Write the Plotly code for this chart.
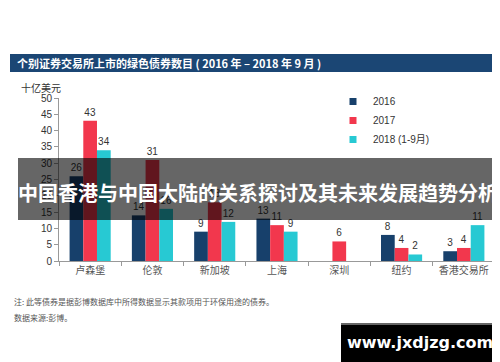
import plotly.graph_objects as go

categories = ["卢森堡", "伦敦", "新加坡", "上海", "深圳", "纽约", "香港交易所"]
series_names = ["2016", "2017", "2018 (1-9月)"]
v2016 = [26, 14, 9, 13, 0, 8, 3]
v2017 = [43, 31, 18, 11, 6, 4, 4]
v2018 = [34, 16, 12, 9, 0, 2, 11]
colors = ["#17406b", "#f2374d", "#27c9d3"]
yticks = [0, 5, 10, 15, 20, 25, 30, 35, 40, 45, 50]

W, H = 500, 362
L, R, T, B = 51, 13, 90, 109
pw, ph = W - L - R, H - T - B

def px(x):
    return (x - L) / pw

def py(y):
    return 1 - (y - T) / ph

FONT = "Liberation Sans, Noto Sans CJK SC, sans-serif"
CJK = "Noto Sans CJK SC, sans-serif"

fig = go.Figure()
for name, vals, c in zip(series_names, [v2016, v2017, v2018], colors):
    fig.add_trace(go.Bar(
        x=categories, y=vals, name=name, marker_color=c, marker_line_width=0,
        text=[str(v) if v else "" for v in vals], textposition="outside",
        textfont=dict(size=10, color="#333", family=FONT), cliponaxis=False,
        showlegend=False,
    ))
    fig.add_trace(go.Scatter(
        x=[None], y=[None], mode="markers", name=name,
        marker=dict(symbol="square", size=7, color=c),
    ))

fig.update_layout(
    width=W, height=H, margin=dict(l=L, r=R, t=T, b=B),
    paper_bgcolor="white", plot_bgcolor="white",
    barmode="group", bargap=0.34, bargroupgap=0,
    font=dict(family=FONT, size=10, color="#333"),
    legend=dict(x=px(325), y=py(79), xanchor="left", yanchor="top",
                font=dict(size=10, color="#333", family=FONT),
                itemwidth=30, tracegroupgap=0, bgcolor="rgba(0,0,0,0)"),
    xaxis=dict(showline=True, linecolor="#999", linewidth=1, ticks="outside",
               tickson="boundaries", ticklen=4, tickcolor="#999",
               tickfont=dict(size=10, color="#555", family=CJK), showgrid=False),
    yaxis=dict(range=[0, 50], tickvals=yticks, showline=True, linecolor="#999",
               linewidth=1, ticks="outside", ticklen=4, tickcolor="#999",
               tickfont=dict(size=10, color="#333"), showgrid=False, zeroline=False),
    shapes=[
        dict(type="rect", xref="paper", yref="paper", x0=px(2), x1=px(500),
             y0=py(46), y1=py(64), fillcolor="#1b4674", line_width=0, layer="below"),
        dict(type="rect", xref="paper", yref="paper", x0=px(10), x1=px(490),
             y0=py(150), y1=py(212), fillcolor="rgba(0,0,0,0.6)", line_width=0, layer="above"),
        dict(type="rect", xref="paper", yref="paper", x0=px(333), x1=px(491),
             y0=py(316), y1=py(363), fillcolor="#000", line_width=0, layer="above"),
        dict(type="rect", xref="paper", yref="paper", x0=px(333), x1=px(491),
             y0=py(315), y1=py(317), fillcolor="#666", line_width=0, layer="above"),
    ],
    annotations=[
        dict(text="<b>个别证券交易所上市的绿色债券数目 ( 2016 年 – 2018 年 9 月 )</b>",
             xref="paper", yref="paper", x=px(7), y=py(55), xanchor="left", yanchor="middle",
             showarrow=False, font=dict(size=11, color="white", family=CJK)),
        dict(text="十亿美元", xref="paper", yref="paper", x=px(11), y=py(80),
             xanchor="left", yanchor="middle", showarrow=False,
             font=dict(size=10, color="#333", family=CJK)),
        dict(text="注: 此等债券是据彭博数据库中所得数据显示其款项用于环保用途的债券。",
             xref="paper", yref="paper", x=px(4), y=py(293), xanchor="left", yanchor="middle",
             showarrow=False, font=dict(size=8, color="#555", family=CJK)),
        dict(text="数据来源:彭博。", xref="paper", yref="paper", x=px(4), y=py(309),
             xanchor="left", yanchor="middle", showarrow=False,
             font=dict(size=8, color="#555", family=CJK)),
        dict(text="<b>中国香港与中国大陆的关系探讨及其未来发展趋势分析</b>",
             xref="paper", yref="paper", x=px(250), y=py(184), xanchor="center", yanchor="middle",
             showarrow=False, font=dict(size=20, color="white", family=CJK)),
        dict(text="<b>www.jxdjzg.com</b>", xref="paper", yref="paper", x=px(412), y=py(334),
             xanchor="center", yanchor="middle", showarrow=False,
             font=dict(size=16, color="white", family="DejaVu Sans, sans-serif")),
    ],
)

fig.write_html("out.html")
